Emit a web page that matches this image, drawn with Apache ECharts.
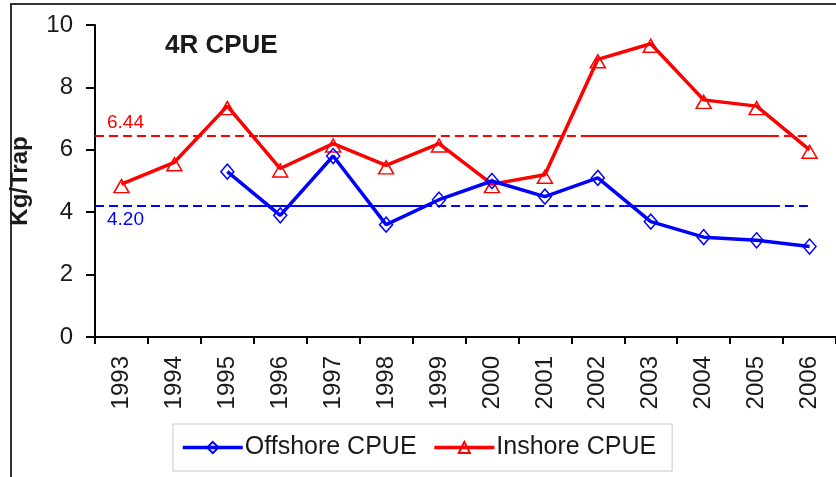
<!DOCTYPE html>
<html>
<head>
<meta charset="utf-8">
<script src="https://cdn.jsdelivr.net/npm/echarts@6/dist/echarts.min.js"></script>
<style>
  html, body { margin: 0; padding: 0; background: #fff; }
  #chart { width: 836px; height: 477px; }
</style>
</head>
<body>
<div id="chart"></div>
<script>
// CPUE by year for area 4R
const years = ['1993', '1994', '1995', '1996', '1997', '1998', '1999',
               '2000', '2001', '2002', '2003', '2004', '2005', '2006'];
const offshoreCpue = [null, null, 5.3, 3.9, 5.8, 3.6, 4.4, 5.0, 4.5, 5.1, 3.7, 3.2, 3.1, 2.9];
const inshoreCpue  = [4.9, 5.6, 7.4, 5.4, 6.2, 5.5, 6.2, 4.9, 5.2, 8.9, 9.4, 7.6, 7.4, 6.0];
const offshoreMean = 4.20;
const inshoreMean = 6.44;
const yTicks = { min: 0, max: 10, interval: 2 };

const FONT = '"Liberation Sans", Arial, sans-serif';
const TEXT = '#1a1a1a';

// Mean lines alternate dashed / solid runs along the x range (in category units)
const redRuns  = [[0, 3.1, 'dashed'], [3.1, 6.27, 'solid'], [6.27, 9.22, 'dashed'], [9.22, 12.75, 'solid'], [12.75, 13.5, 'dashed']];
const blueRuns = [[0, 2.9, 'dashed'], [2.9, 6.2, 'solid'], [6.2, 10.0, 'dashed'], [10.0, 12.77, 'solid'], [12.77, 13.5, 'dashed']];

function meanLine(name, value, runs, color, labelPos) {
  return {
    name: name,
    type: 'line',
    xAxisIndex: 1,
    data: [],
    silent: true,
    markLine: {
      silent: true,
      symbol: 'none',
      animation: false,
      data: runs.map((r, i) => [
        {
          coord: [r[0], value],
          lineStyle: { color: color, width: 2, type: r[2] === 'dashed' ? [9, 5] : 'solid' },
          label: i === 0 ? {
            show: true,
            position: labelPos,
            formatter: value.toFixed(2),
            color: color,
            fontFamily: FONT,
            fontSize: 19,
            distance: [12, 4]
          } : { show: false }
        },
        { coord: [r[1], value] }
      ])
    }
  };
}

const chart = echarts.init(document.getElementById('chart'), null, { renderer: 'canvas' });
chart.setOption({
  animation: false,
  backgroundColor: '#fff',
  grid: { left: 94, top: 25, width: 753, bottom: 140 },
  xAxis: [
    {
      type: 'category',
      data: years,
      boundaryGap: true,
      axisLine: { lineStyle: { color: '#000', width: 2 } },
      axisTick: { show: true, length: 7, lineStyle: { color: '#000', width: 2 } },
      axisLabel: { rotate: 90, margin: 19, fontSize: 24, fontFamily: FONT, color: TEXT },
      splitLine: { show: false }
    },
    { type: 'value', min: 0, max: 14, show: false }
  ],
  yAxis: {
    type: 'value',
    min: yTicks.min, max: yTicks.max, interval: yTicks.interval,
    name: 'Kg/Trap',
    nameLocation: 'middle',
    nameRotate: 90,
    nameGap: 63,
    nameTextStyle: { fontSize: 24, fontWeight: 'bold', fontFamily: FONT, color: TEXT },
    axisLine: { show: true, lineStyle: { color: '#000', width: 2 } },
    axisTick: { show: true, length: 9, lineStyle: { color: '#000', width: 2 } },
    axisLabel: { margin: 22, fontSize: 24, fontFamily: FONT, color: TEXT },
    splitLine: { show: false }
  },
  legend: {
    data: ['Offshore CPUE', 'Inshore CPUE'],
    left: 173, top: 424,
    padding: [11, 16, 11, 8],
    itemGap: 16,
    itemWidth: 60, itemHeight: 14,
    borderColor: '#c8c8c8', borderWidth: 1,
    backgroundColor: '#fff',
    lineStyle: { width: 3.5 },
    textStyle: { fontSize: 25, fontFamily: FONT, color: TEXT, padding: [0, 0, 0, -3] }
  },
  graphic: [
    {
      type: 'rect', silent: true, z: -1,
      shape: { x: 11, y: 4, width: 900, height: 600 },
      style: { fill: 'none', stroke: '#333', lineWidth: 2 }
    },
    {
      type: 'text', left: 165, top: 33, silent: true,
      style: { text: '4R CPUE', fontSize: 26, fontWeight: 'bold', fontFamily: FONT, fill: TEXT }
    }
  ],
  series: [
    meanLine('inshoreMean', inshoreMean, redRuns, '#ff0000', 'insideStartTop'),
    meanLine('offshoreMean', offshoreMean, blueRuns, '#0000ff', 'insideStartBottom'),
    {
      name: 'Offshore CPUE',
      type: 'line',
      data: offshoreCpue,
      connectNulls: false,
      symbol: 'diamond',
      symbolSize: [13, 15],
      lineStyle: { color: '#0000ff', width: 3.5 },
      itemStyle: { color: 'rgba(255,255,255,0)', borderColor: '#0000ff', borderWidth: 1.5 },
      z: 5
    },
    {
      name: 'Inshore CPUE',
      type: 'line',
      data: inshoreCpue,
      symbol: 'triangle',
      symbolSize: [15, 13],
      symbolOffset: [0, 2],
      lineStyle: { color: '#ff0000', width: 3.5 },
      itemStyle: { color: 'rgba(255,255,255,0)', borderColor: '#ff0000', borderWidth: 1.5 },
      z: 4
    }
  ]
});
</script>
</body>
</html>
